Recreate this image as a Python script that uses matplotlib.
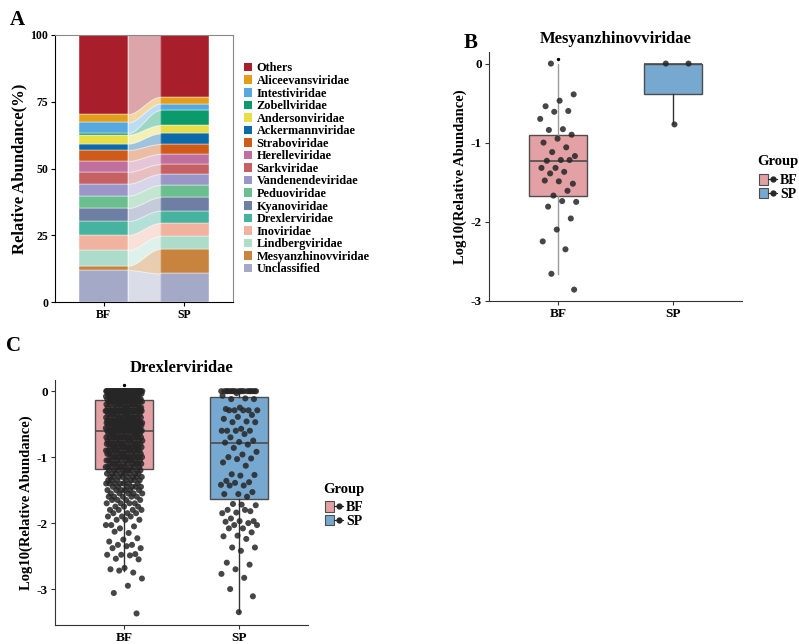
import numpy as np
import matplotlib
matplotlib.use("Agg")
import matplotlib.pyplot as plt
from matplotlib.patches import Patch
from matplotlib.lines import Line2D
from matplotlib.legend_handler import HandlerTuple

plt.rcParams['font.family'] = 'Liberation Serif'
plt.rcParams['font.weight'] = 'bold'
plt.rcParams['axes.unicode_minus'] = False

# ---- panel A data (bottom -> top) ----
families = ["Unclassified", "Mesyanzhinovviridae", "Lindbergviridae", "Inoviridae",
            "Drexlerviridae", "Kyanoviridae", "Peduoviridae", "Vandenendeviridae",
            "Sarkviridae", "Herelleviridae", "Straboviridae", "Ackermannviridae",
            "Andersonviridae", "Zobellviridae", "Intestiviridae", "Aliceevansviridae", "Others"]
colors = ["#A3A9C6", "#C8843E", "#AEDCCB", "#F1B2A0", "#45B39D", "#6F7FA3", "#6BBF8E",
          "#9A97C8", "#C56063", "#C0709E", "#CF5B1B", "#0D6AA8", "#E8DE4A", "#0B9A6B",
          "#56A8DF", "#E39D1A", "#A81E2B"]
bf_pct = [12.1, 1.6, 5.9, 5.6, 5.2, 4.9, 4.6, 4.5, 4.4, 4.1, 4.1, 2.4, 3.3, 0.6, 4.0, 3.1, 29.6]
sp_pct = [10.8, 9.2, 4.8, 4.9, 4.6, 5.0, 4.6, 4.1, 3.7, 3.8, 3.7, 4.0, 3.1, 5.6, 2.4, 2.6, 23.1]
groups = ["BF", "SP"]

# ---- panel B data: Mesyanzhinovviridae ----
b_bf = [0.0, -0.39, -0.47, -0.54, -0.60, -0.61, -0.70, -0.83, -0.84, -0.90, -0.95, -1.00,
        -1.06, -1.12, -1.17, -1.22, -1.23, -1.22, -1.32, -1.32, -1.37, -1.39, -1.52, -1.49,
        -1.48, -1.61, -1.67, -1.75, -1.74, -1.81, -1.96, -2.10, -2.25, -2.35, -2.66, -2.86]
b_sp = [0.0, 0.0, -0.77]
# box stats: whislo, q1, med, q3, whishi
b_stats = {"BF": [-2.66, -1.67, -1.23, -0.90, 0.0], "SP": [-0.77, -0.38, 0.0, 0.0, 0.0]}
b_outlier = 0.063

# ---- panel C data: Drexlerviridae ----
c_bf_levels = [0.0, -0.04, -0.08, -0.12, -0.16, -0.2, -0.25, -0.3, -0.35, -0.4, -0.45, -0.48,
               -0.52, -0.56, -0.6, -0.65, -0.7, -0.75, -0.8, -0.85, -0.9, -0.95, -1.0, -1.05,
               -1.1, -1.15, -1.2, -1.25, -1.3, -1.35, -1.4, -1.45, -1.5, -1.55, -1.6, -1.65,
               -1.7, -1.75, -1.8, -1.85, -1.9, -1.95]
c_bf_counts = [45, 12, 12, 12, 12, 10, 10, 25, 10, 12, 10, 20, 10, 10, 18, 10, 14, 10, 12, 12,
               12, 10, 12, 10, 10, 10, 9, 8, 8, 7, 7, 6, 6, 5, 5, 4, 4, 3, 4, 3, 3, 3]
c_bf_tail = [-2.03, -2.05, -2.08, -2.03, -2.15, -2.13, -2.23, -2.25, -2.28, -2.33, -2.33, -2.38,
             -2.35, -2.38, -2.47, -2.48, -2.48, -2.49, -2.54, -2.55, -2.68, -2.70, -2.75, -2.72,
             -2.84, -2.95, -3.06, -3.37]
c_sp = [0.0] * 18 + [
    -0.03, -0.07, -0.11, -0.12, -0.12, -0.25, -0.27, -0.29, -0.29, -0.29, -0.29, -0.29,
    -0.36, -0.39, -0.42, -0.46, -0.47, -0.47, -0.57, -0.6, -0.6, -0.6, -0.6,
    -0.65, -0.70, -0.75, -0.77, -0.78, -0.81, -0.86, -0.92, -0.96, -1.0, -1.02, -1.03, -1.08, -1.13,
    -1.26, -1.27, -1.28, -1.36, -1.38, -1.39, -1.42, -1.43, -1.43, -1.53, -1.56, -1.56, -1.6,
    -1.71, -1.73, -1.72, -1.8, -1.82, -1.84, -1.85, -1.8, -1.93, -1.97, -1.97, -1.98, -2.0,
    -2.03, -2.03, -2.08, -2.08, -2.14, -2.19, -2.2, -2.24, -2.37, -2.37, -2.42, -2.6, -2.63,
    -2.7, -2.77, -2.83, -3.0, -3.11, -3.35]
c_stats = {"BF": [-2.72, -1.18, -0.60, -0.135, 0.0], "SP": [-3.35, -1.63, -0.79, -0.095, 0.0]}
c_outlier = 0.09

box_colors = {"BF": "#E4A1A5", "SP": "#76A8D0"}
pt_color = "#262626"
W, H = 799, 644


def jitter(n, w=0.16):
    # deterministic spread in place of random jitter
    return ((np.arange(n) * 0.618034 + 0.31) % 1 - 0.5) * 2 * w


def box_panel(ax, stats, pts, outlier, title, whisk_cols):
    for i, g in enumerate(groups):
        lo, q1, med, q3, hi = stats[g]
        ax.bxp([{"whislo": lo, "q1": q1, "med": med, "q3": q3, "whishi": hi, "fliers": []}],
               positions=[i + 1], widths=0.5, patch_artist=True, showcaps=False,
               boxprops=dict(facecolor=box_colors[g], edgecolor="#4d4d4d", linewidth=1.0),
               medianprops=dict(color="#4d4d4d", linewidth=1.2),
               whiskerprops=dict(color=whisk_cols[i], linewidth=1.0))
        y = np.asarray(pts[g], dtype=float)
        ax.scatter(i + 1 + jitter(len(y)), y, s=19, color=pt_color, alpha=0.85,
                   edgecolors="none", zorder=3)
    ax.scatter([1], [outlier], s=2, color="black", zorder=3)
    ax.set_xlim(0.4, 2.6)
    ax.set_xticks([1, 2])
    ax.set_xticklabels(groups, fontsize=9.5, fontweight="bold")
    ax.tick_params(axis="y", labelsize=9.5, length=3, pad=2, color="#333333")
    ax.tick_params(axis="x", length=3, pad=2, color="#333333")
    for s in ["top", "right"]:
        ax.spines[s].set_visible(False)
    for s in ["left", "bottom"]:
        ax.spines[s].set_color("#333333")
    ax.set_title(title, fontsize=12, fontweight="bold", pad=6)
    ax.set_ylabel("Log10(Relative Abundance)", fontsize=10.5, fontweight="bold", labelpad=3)


def group_legend(fig, xpx, ypx):
    # title drawn as text, keys below it
    fig.text(xpx / W, 1 - ypx / H, "Group", fontsize=10.5, fontweight="bold", va="center")
    hs = []
    for g in groups:
        hs.append((Patch(facecolor=box_colors[g], edgecolor="#4d4d4d", linewidth=0.8),
                   Line2D([], [], marker="o", markersize=3.5, color="#262626", linestyle="-",
                          linewidth=0.8)))
    fig.legend(hs, groups, loc="upper left", bbox_to_anchor=((xpx + 2) / W, 1 - (ypx + 12) / H),
               frameon=False, handler_map={tuple: HandlerTuple(ndivide=None, pad=0)},
               handlelength=1.3, handleheight=0.8, handletextpad=0.2, labelspacing=0.05,
               prop={"size": 10, "weight": "bold"}, borderpad=0, borderaxespad=0)


fig = plt.figure(figsize=(7.99, 6.44), dpi=100)

# ---- A: stacked bars with flows ----
ax = fig.add_axes([0.0688, 0.5306, 0.2228, 0.4151])
bf_b = np.concatenate([[0], np.cumsum(bf_pct)[:-1]])
sp_b = np.concatenate([[0], np.cumsum(sp_pct)[:-1]])
t = np.linspace(0, 1, 60)
sm = 3 * t ** 2 - 2 * t ** 3
xs = 1.3 + 0.4 * t
for k in range(len(families)):
    ax.bar([1, 2], [bf_pct[k], sp_pct[k]], bottom=[bf_b[k], sp_b[k]], width=0.6,
           color=colors[k], edgecolor="white", linewidth=0.3)
    lo = bf_b[k] + (sp_b[k] - bf_b[k]) * sm
    hi = bf_b[k] + bf_pct[k] + (sp_b[k] + sp_pct[k] - bf_b[k] - bf_pct[k]) * sm
    ax.fill_between(xs, lo, hi, color=colors[k], alpha=0.4, edgecolor="white", linewidth=0.8)
ax.set_xlim(0.4, 2.6)
ax.set_ylim(0, 100)
ax.set_yticks([0, 25, 50, 75, 100])
ax.set_xticks([1, 2])
ax.set_xticklabels(groups, fontsize=8.5, fontweight="bold")
ax.tick_params(axis="y", labelsize=8.5, length=3, pad=2)
ax.tick_params(axis="x", length=3, pad=2)
ax.spines["top"].set_color("#888888")
ax.spines["right"].set_color("#888888")
ax.set_ylabel("Relative Abundance(%)", fontsize=12, fontweight="bold", labelpad=2)
handles = [Patch(facecolor=colors[k], edgecolor="none") for k in range(len(families))][::-1]
fig.legend(handles, families[::-1], loc="upper left", bbox_to_anchor=(0.305, 0.903),
           frameon=False, handlelength=0.7, handleheight=0.7, handletextpad=0.35,
           labelspacing=0.045, prop={"size": 8.8, "weight": "bold"}, borderpad=0,
           borderaxespad=0)

# ---- B ----
axb = fig.add_axes([0.612, 0.5331, 0.3163, 0.3866])
box_panel(axb, b_stats, {"BF": b_bf, "SP": b_sp}, b_outlier, "Mesyanzhinovviridae",
          ["#9a9a9a", "#333333"])
axb.set_ylim(-3.0, 0.15)
axb.set_yticks([0, -1, -2, -3])
group_legend(fig, 757, 162)

# ---- C ----
axc = fig.add_axes([0.0688, 0.0300, 0.3167, 0.3800])
c_bf = np.concatenate([np.repeat(c_bf_levels, c_bf_counts), c_bf_tail])
box_panel(axc, c_stats, {"BF": c_bf, "SP": c_sp}, c_outlier, "Drexlerviridae",
          ["#333333", "#333333"])
axc.set_ylim(-3.54, 0.17)
axc.set_yticks([0, -1, -2, -3])
group_legend(fig, 323, 489)

fig.text(0.012, 0.985, "A", fontsize=15, fontweight="bold", va="top")
fig.text(0.580, 0.948, "B", fontsize=15, fontweight="bold", va="top")
fig.text(0.008, 0.478, "C", fontsize=15, fontweight="bold", va="top")

fig.savefig("out.png", dpi=100)
